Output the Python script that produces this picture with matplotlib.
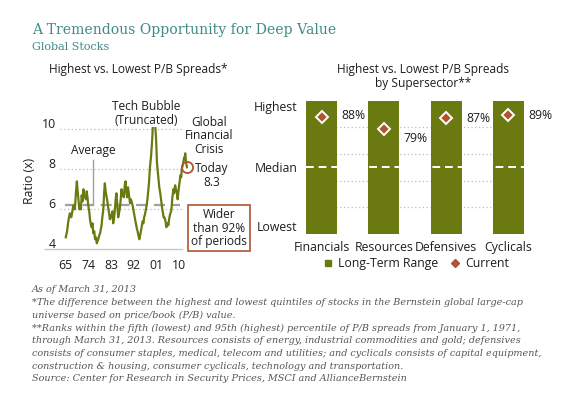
import matplotlib
matplotlib.use("Agg")
import matplotlib.pyplot as plt
from matplotlib.lines import Line2D
import matplotlib.transforms as mtransforms

# ---------------- data ----------------
years = [1965.0, 1965.5, 1966.0, 1966.6, 1967.2, 1967.6, 1968.0, 1968.6, 1969.0, 1969.4,
         1969.7, 1970.0, 1970.4, 1970.7, 1971.0, 1971.3, 1971.7, 1972.0, 1972.3, 1972.6,
         1973.0, 1973.3, 1973.6, 1973.9, 1974.3, 1974.6, 1975.0, 1975.3, 1975.6, 1975.9,
         1976.3, 1976.6, 1977.0, 1977.3, 1977.6, 1977.9, 1978.3, 1978.6, 1978.9, 1979.2,
         1979.5, 1979.9, 1980.2, 1980.5, 1980.8, 1981.2, 1981.5, 1981.8, 1982.2, 1982.5,
         1982.8, 1983.2, 1983.5, 1983.8, 1984.2, 1984.5, 1984.8, 1985.1, 1985.4, 1985.8,
         1986.1, 1986.4, 1986.8, 1987.1, 1987.4, 1987.7, 1988.0, 1988.4, 1988.7, 1989.0,
         1989.3, 1989.7, 1990.0, 1990.5, 1990.8, 1991.1, 1991.5, 1991.8, 1992.2, 1992.5,
         1992.8, 1993.1, 1993.5, 1993.8, 1994.2, 1994.5, 1994.8, 1995.2, 1995.5, 1995.8,
         1996.1, 1996.5, 1996.8, 1997.1, 1997.4, 1997.7, 1998.0, 1998.4, 1998.8, 1999.1,
         1999.3, 1999.6, 1999.8, 2000.1, 2000.4, 2000.6, 2000.8, 2001.0, 2001.2, 2001.5,
         2001.7, 2002.1, 2002.5, 2002.8, 2003.1, 2003.3, 2003.6, 2003.8, 2004.1, 2004.4,
         2004.7, 2004.9, 2005.2, 2005.4, 2005.7, 2006.0, 2006.3, 2006.5, 2006.8, 2007.0,
         2007.3, 2007.7, 2008.0, 2008.4, 2008.7, 2009.0, 2009.2, 2009.4, 2009.7, 2010.0,
         2010.3, 2010.5, 2010.8, 2011.0, 2011.4, 2011.7, 2012.0, 2012.2, 2012.4, 2012.6,
         2012.8, 2013.1]
ratio = [4.6, 4.9, 5.4, 5.8, 5.6, 5.9, 6.2, 6.0, 6.8, 7.4,
         6.9, 6.5, 6.0, 6.2, 6.0, 6.7, 6.4, 7.0, 6.6, 6.7,
         6.5, 6.9, 6.6, 6.2, 5.9, 5.5, 5.2, 5.1, 5.3, 4.8,
         4.9, 4.5, 4.6, 4.3, 4.4, 4.5, 4.7, 4.8, 5.0, 5.2,
         5.6, 6.0, 6.8, 7.3, 6.9, 6.6, 6.4, 6.1, 5.8, 5.5,
         5.7, 5.6, 5.9, 5.3, 5.6, 6.0, 6.5, 6.8, 6.3, 5.6,
         5.8, 6.0, 6.5, 7.0, 6.7, 6.8, 6.6, 7.2, 7.4, 6.9,
         6.6, 7.1, 6.8, 6.3, 6.5, 6.4, 6.2, 6.0, 5.7, 5.5,
         5.3, 5.1, 4.9, 4.7, 4.5, 4.7, 4.9, 5.2, 5.4, 5.3,
         5.6, 5.8, 6.0, 6.2, 6.5, 6.9, 7.3, 8.1, 8.6, 9.1,
         9.5, 10.3, 11.0, 11.2, 10.6, 10.0, 9.6, 8.9, 8.3, 7.9,
         7.6, 7.1, 6.8, 6.5, 6.2, 6.0, 5.8, 5.6, 5.6, 5.5,
         5.3, 5.1, 5.2, 5.3, 5.2, 5.5, 5.7, 5.8, 5.9, 6.1,
         6.6, 7.0, 6.8, 7.2, 7.0, 6.9, 6.7, 6.5, 6.9, 7.2,
         7.5, 7.7, 7.6, 8.0, 8.2, 8.4, 8.6, 8.5, 8.8, 8.5,
         8.3, 8.1]
average_ratio = 6.2
today_year = 2013.0
today_ratio = 8.1
x_tick_years = [1965, 1974, 1983, 1992, 2001, 2010]
x_tick_labels = ["65", "74", "83", "92", "01", "10"]
y_ticks_left = [4, 6, 8, 10]

sectors = ["Financials", "Resources", "Defensives", "Cyclicals"]
range_low = [0, 0, 0, 0]
range_high = [100, 100, 100, 100]
current_pct = [88, 79, 87, 89]
pct_labels = ["88%", "79%", "87%", "89%"]
label_dy_pts = [1, -7, 0, 0]   # label vertical nudge (points)

# ---------------- style ----------------
W, H = 580, 409
OLIVE = "#6b7a10"
RUST = "#b0532f"
TEAL = "#3f8a85"
GRID = "#bdbdbd"
TXT = "#1e1e1e"
SANS = ["Open Sans", "DejaVu Sans"]
plt.rcParams["font.family"] = SANS

fig = plt.figure(figsize=(W / 100, H / 100), dpi=100)
fig.patch.set_facecolor("white")


def fx(px):
    return px / W


def fy(py):
    return 1 - py / H


# titles
fig.text(fx(32), fy(34), "A Tremendous Opportunity for Deep Value", family="DejaVu Serif",
         fontsize=10.1, color=TEAL, va="baseline", ha="left")
fig.text(fx(32), fy(50), "Global Stocks", family="DejaVu Serif", fontsize=8.0,
         color=TEAL, va="baseline", ha="left")

# ---------------- left chart ----------------
axL = fig.add_axes([fx(60), fy(249.3), 128 / W, 122 / H])
axL.set_xlim(1962.7, 2013.5)
axL.set_ylim(4, 10.1)
for s in axL.spines.values():
    s.set_visible(False)
axL.hlines([6, 8, 10], 1962.7, 2011.3, colors=GRID, linestyles=(0, (1, 2)), lw=0.9, zorder=1)
axL.plot([1956.8, 2011.3], [4, 4], color="#c8c8c8", lw=1.0, clip_on=False, zorder=1)
axL.hlines([average_ratio], 1964.7, 2010.4, colors="#a0a0a0", linestyles=(0, (5, 3)), lw=1.6, zorder=2)
axL.plot(years, ratio, color=OLIVE, lw=1.6, zorder=3)
axL.plot([today_year], [today_ratio], marker="o", ms=8, mfc="none", mec=RUST, mew=1.3,
         zorder=4, clip_on=False)

axL.set_xticks(x_tick_years)
axL.set_xticklabels(x_tick_labels)
axL.set_yticks(y_ticks_left)
axL.set_yticklabels([str(v) for v in y_ticks_left])
axL.tick_params(axis="both", length=0, labelsize=8.8, labelcolor=TXT)
axL.tick_params(axis="x", pad=7)
axL.tick_params(axis="y", pad=3)
off = mtransforms.ScaledTranslation(0, 6 / 100, fig.dpi_scale_trans)
for lab in axL.get_yticklabels():
    lab.set_transform(lab.get_transform() + off)
axL.set_ylabel("Ratio (x)", fontsize=8.8, color=TXT)
axL.yaxis.set_label_coords(-0.185, 0.56)

fig.text(fx(138.5), fy(70), "Highest vs. Lowest P/B Spreads*", ha="center", va="center",
         fontsize=8.6, color=TXT)

# annotations
axL.text(1975.8, 8.93, "Average", ha="center", va="center", fontsize=8.6, color=TXT)
axL.plot([1975.7, 1975.7], [8.47, average_ratio], color="#a0a0a0", lw=1.0, zorder=2)
axL.text(1997.1, 10.8, "Tech Bubble\n(Truncated)", ha="center", va="center", fontsize=8.6,
         color=TXT, linespacing=1.05)
axL.text(2021.9, 9.68, "Global\nFinancial\nCrisis", ha="center", va="center", fontsize=8.6,
         color=TXT, linespacing=1.05, clip_on=False)
axL.text(2022.9, 7.68, "Today\n8.3", ha="center", va="center", fontsize=8.6,
         color=TXT, linespacing=1.05, clip_on=False)
fig.text(fx(219), fy(228), "Wider\nthan 92%\nof periods", ha="center", va="center",
         fontsize=8.6, color=TXT, linespacing=1.1,
         bbox=dict(boxstyle="square,pad=0.25", fc="white", ec=RUST, lw=1.2))

# ---------------- right chart ----------------
axR = fig.add_axes([fx(306), fy(234), 218 / W, 133.3 / H])
xs = list(range(len(sectors)))
axR.set_xlim(-0.25, 3.25)
axR.set_ylim(0, 100)
for s in axR.spines.values():
    s.set_visible(False)
axR.hlines([20, 40, 60, 80], -0.25, 3.25, colors=GRID, linestyles=(0, (1, 2)), lw=0.9, zorder=1)
heights = [h - l for h, l in zip(range_high, range_low)]
axR.bar(xs, heights, bottom=range_low, width=0.5, color=OLIVE, zorder=2)
axR.axhline(50, color="white", lw=1.4, ls=(0, (4, 2.5)), zorder=3)
axR.plot(xs, current_pct, ls="none", marker="D", ms=6.5, mfc=RUST, mec="white", mew=1.4,
         zorder=4)
for x, v, t, dy in zip(xs, current_pct, pct_labels, label_dy_pts):
    axR.annotate(t, (x + 0.25, v), xytext=(3, dy), textcoords="offset points",
                 ha="left", va="center", fontsize=8.8, color=TXT, annotation_clip=False)

axR.set_xticks(xs)
axR.set_xticklabels(sectors)
axR.tick_params(axis="x", length=0, pad=5, labelsize=8.8, labelcolor=TXT)
axR.set_yticks([0, 50, 100])
axR.set_yticklabels(["Lowest", "Median", "Highest"])
axR.tick_params(axis="y", length=0, pad=6, labelsize=8.8, labelcolor=TXT)
ylabs = axR.get_yticklabels()
ylabs[0].set_va("bottom")
ylabs[2].set_va("top")

fig.text(fx(423), fy(76.7), "Highest vs. Lowest P/B Spreads\nby Supersector**", ha="center",
         va="center", fontsize=8.6, color=TXT, linespacing=1.15)

handles = [Line2D([], [], ls="none", marker="s", ms=4.5, color=OLIVE),
           Line2D([], [], ls="none", marker="D", ms=4, color=RUST)]
fig.legend(handles, ["Long-Term Range", "Current"], loc="center", bbox_to_anchor=(fx(416), fy(263.5)),
           ncol=2, frameon=False, fontsize=8.8, handlelength=0.8, handletextpad=0.4,
           columnspacing=1.0, labelcolor=TXT)

# ---------------- footnotes ----------------
notes = [
    "As of March 31, 2013",
    "*The difference between the highest and lowest quintiles of stocks in the Bernstein global large-cap",
    "universe based on price/book (P/B) value.",
    "**Ranks within the fifth (lowest) and 95th (highest) percentile of P/B spreads from January 1, 1971,",
    "through March 31, 2013. Resources consists of energy, industrial commodities and gold; defensives",
    "consists of consumer staples, medical, telecom and utilities; and cyclicals consists of capital equipment,",
    "construction & housing, consumer cyclicals, technology and transportation.",
    "Source: Center for Research in Security Prices, MSCI and AllianceBernstein",
]
for i, line in enumerate(notes):
    fig.text(fx(32), fy(290 + 12.7 * i), line, family="DejaVu Serif", style="italic",
             fontsize=6.9, color="#555555", ha="left", va="center")

fig.savefig("out.png", dpi=100, facecolor="white")
